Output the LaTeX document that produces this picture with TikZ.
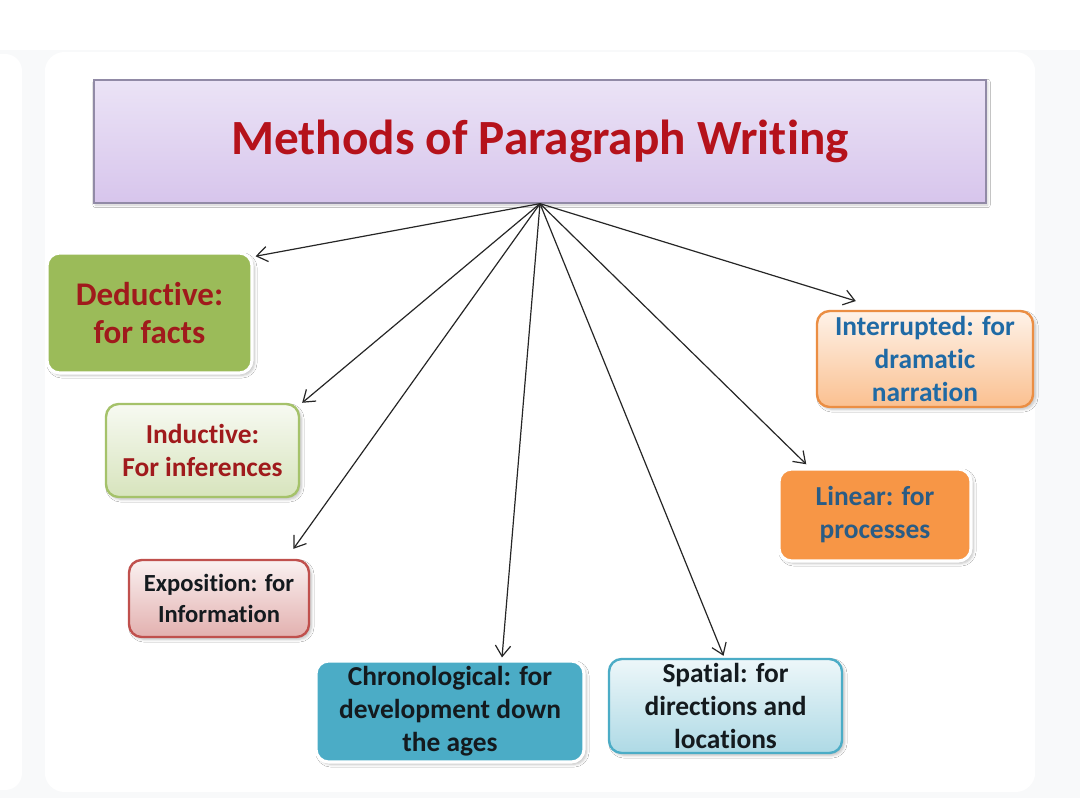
\documentclass[tikz,border=0pt]{standalone}
\usepackage{fontspec}
\setmainfont[Ligatures=NoCommon]{Carlito}
\usetikzlibrary{positioning, arrows.meta, shadows.blur}
\definecolor{pBg}{HTML}{F8F9FA}
\definecolor{pLilacTop}{HTML}{EBE3F6}
\definecolor{pLilacBot}{HTML}{D7C5EC}
\definecolor{pLilacLine}{HTML}{918AA6}
\definecolor{pRed}{HTML}{B5121B}
\definecolor{pBrick}{HTML}{A01A1C}
\definecolor{pOlive}{HTML}{9BBB59}
\definecolor{pTeal}{HTML}{4BACC6}
\definecolor{pOrange}{HTML}{F79646}
\definecolor{pRose}{HTML}{C0504D}
\definecolor{pBlue}{HTML}{1F6AA5}
\definecolor{pSlate}{HTML}{2A5C85}
\definecolor{pInk}{HTML}{141A1E}

\begin{document}
\begin{tikzpicture}[
  every node/.style={font=\bfseries, align=center},
  box/.style={rounded corners=9pt, inner sep=2pt,
              blur shadow={shadow blur steps=5, shadow xshift=0.6mm,
              shadow yshift=-0.6mm, shadow opacity=25}},
  solid box/.style={box, draw=white, line width=2.2pt},
  soft box/.style={box, line width=1.7pt},
  txt/.style={font=\fontsize{19.5}{23.5}\selectfont\bfseries},
  link/.style={draw=black!85, line width=0.85pt,
               -{Straight Barb[length=2.7mm, width=3.8mm]}},
]
  % Frame
  \useasboundingbox (0,0) rectangle (27,-19.95);
  \fill[white] (0,0) rectangle (27,-19.95);
  \fill[pBg] (0,-1.25) rectangle (27,-19.95);
  \fill[white, rounded corners=12pt] (-1,-1.35) rectangle (0.55,-19.75);
  \fill[white, rounded corners=14pt] (1.12,-1.3) rectangle (25.88,-19.8);

  % Title
  \node[draw=pLilacLine, line width=0.9pt, top color=pLilacTop, bottom color=pLilacBot,
        minimum width=22.3cm, minimum height=3.075cm,
        blur shadow={shadow blur steps=4, shadow xshift=0.4mm,
        shadow yshift=-0.5mm, shadow opacity=20},
        text=pRed, font=\fontsize{35}{40}\selectfont\bfseries] (ttl) at (13.5,-3.5375)
        {Methods of Paragraph Writing};

  % Left side
  \node[solid box, fill=pOlive, minimum width=5.125cm, minimum height=3cm,
        text=pBrick, font=\fontsize{23.5}{27.5}\selectfont\bfseries] (ded) at (3.7375,-7.825)
        {Deductive:\\for facts};
  \node[soft box, draw=pOlive!90, top color=pOlive!8, bottom color=pOlive!40,
        minimum width=4.825cm, minimum height=2.325cm,
        text=pBrick, txt] (ind) at (5.0625,-11.2625)
        {Inductive:\\For inferences};
  \node[soft box, draw=pRose, top color=pRose!8, bottom color=pRose!45,
        minimum width=4.5cm, minimum height=1.925cm,
        text=pInk, font=\fontsize{17.5}{22}\selectfont\bfseries] (exp) at (5.475,-14.9625)
        {Exposition: for\\Information};

  % Bottom
  \node[solid box, fill=pTeal, minimum width=6.7cm, minimum height=2.525cm,
        text=pInk, txt] (chr) at (11.25,-17.7875)
        {Chronological: for\\development down\\the ages};
  \node[soft box, draw=pTeal, top color=pTeal!10, bottom color=pTeal!45,
        minimum width=5.825cm, minimum height=2.35cm,
        text=pInk, txt] (spa) at (18.1375,-17.65)
        {Spatial: for\\directions and\\locations};

  % Right side
  \node[solid box, fill=pOrange, minimum width=4.8cm, minimum height=2.3cm,
        text=pSlate, txt] (lin) at (21.875,-12.875)
        {Linear: for\\processes};
  \node[soft box, draw=pOrange!95!black, top color=pOrange!12, bottom color=pOrange!60,
        minimum width=5.4cm, minimum height=2.4cm,
        text=pBlue, txt] (int) at (23.125,-8.975)
        {Interrupted: for\\dramatic\\narration};

  % Arrows
  \draw[link] (ttl.south) -- ([shift={(0.05,-0.12)}]ded.north east);
  \draw[link] (ttl.south) -- ([shift={(0.05,0)}]ind.north east);
  \draw[link] (ttl.south) -- ([shift={(-0.42,0.25)}]exp.north east);
  \draw[link] (ttl.south) -- ([shift={(1.3,0.05)}]chr.north);
  \draw[link] (ttl.south) -- ([shift={(-0.05,0.05)}]spa.north);
  \draw[link] (ttl.south) -- ([shift={(0.72,0.08)}]lin.north west);
  \draw[link] (ttl.south) -- ([shift={(1,0.22)}]int.north west);
\end{tikzpicture}
\end{document}
